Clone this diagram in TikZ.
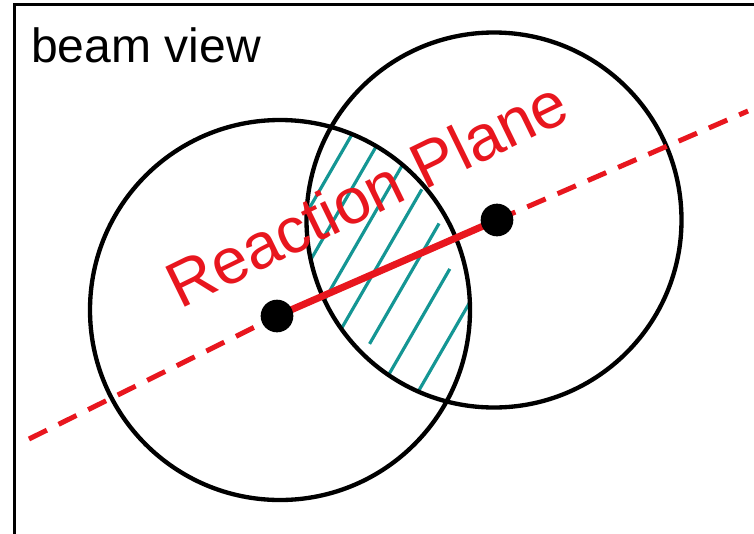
\documentclass[tikz,border=0pt]{standalone}
\usepackage{fontspec}
\setmainfont{Liberation Sans}
\definecolor{rpred}{RGB}{232,22,30}
\definecolor{hatchteal}{RGB}{20,150,148}
\tikzset{
  nucleus/.style={draw=black, line width=1.3mm},
  frameline/.style={draw=black, line width=0.9mm},
  hatchline/.style={draw=hatchteal, line width=0.95mm},
  planedash/.style={draw=rpred, line width=1.5mm, dash pattern=on 6mm off 3.9mm},
  planesolid/.style={draw=rpred, line width=2.1mm},
  centre/.style={circle, fill=black, inner sep=0pt, minimum size=9.8mm},
  rptext/.style={text=rpred, font=\fontsize{55}{60}\selectfont, inner sep=0pt, anchor=base west},
  titletext/.style={text=black, font=\fontsize{41}{48}\selectfont, inner sep=0pt, anchor=base west}
}
\begin{document}
\begin{tikzpicture}[x=0.3mm, y=-0.3mm]
\useasboundingbox (0,0) rectangle (754,533);
\fill[white] (0,0) rectangle (754,533);
% frame (cut off at right and bottom)
\coordinate (ftl) at (14,4);
\coordinate (fbl) at (14,540);
\coordinate (ftr) at (760,4);
\draw[frameline] (fbl) -- (ftl) -- (ftr);
% hatching of the overlap region
\begin{scope}
  \clip (280,310) circle[radius=57mm];
  \clip (494,220) circle[radius=56.25mm];
  \foreach \c/\ta/\tb in {372/-250/150, 399/-250/150, 431/-250/150, 460/-250/47, 492/-113/26, 524/-250/-8, 558/-250/150}
    \draw[hatchline] ({0.866*\c+0.5*\ta},{0.5*\c-0.866*\ta}) -- ({0.866*\c+0.5*\tb},{0.5*\c-0.866*\tb});
\end{scope}
% nuclei
\draw[nucleus] (280,310) circle[radius=57mm];
\draw[nucleus] (494,220) circle[radius=56.25mm];
% centres
\coordinate (dl) at (29,439);
\coordinate (dr) at (748,111);
\coordinate (ca) at (277,316);
\coordinate (cb) at (497,220);
\draw[planedash] (dl) -- (ca);
\draw[planedash] (cb) -- (dr);
\draw[planesolid] (ca) -- (cb);
\node[centre] (A) at (ca) {};
\node[centre] (B) at (cb) {};
% labels
\node[rptext, rotate=26] (rp) at (180,310) {Reaction Plane};
\node[titletext] (title) at (31,62) {beam view};
\end{tikzpicture}
\end{document}
